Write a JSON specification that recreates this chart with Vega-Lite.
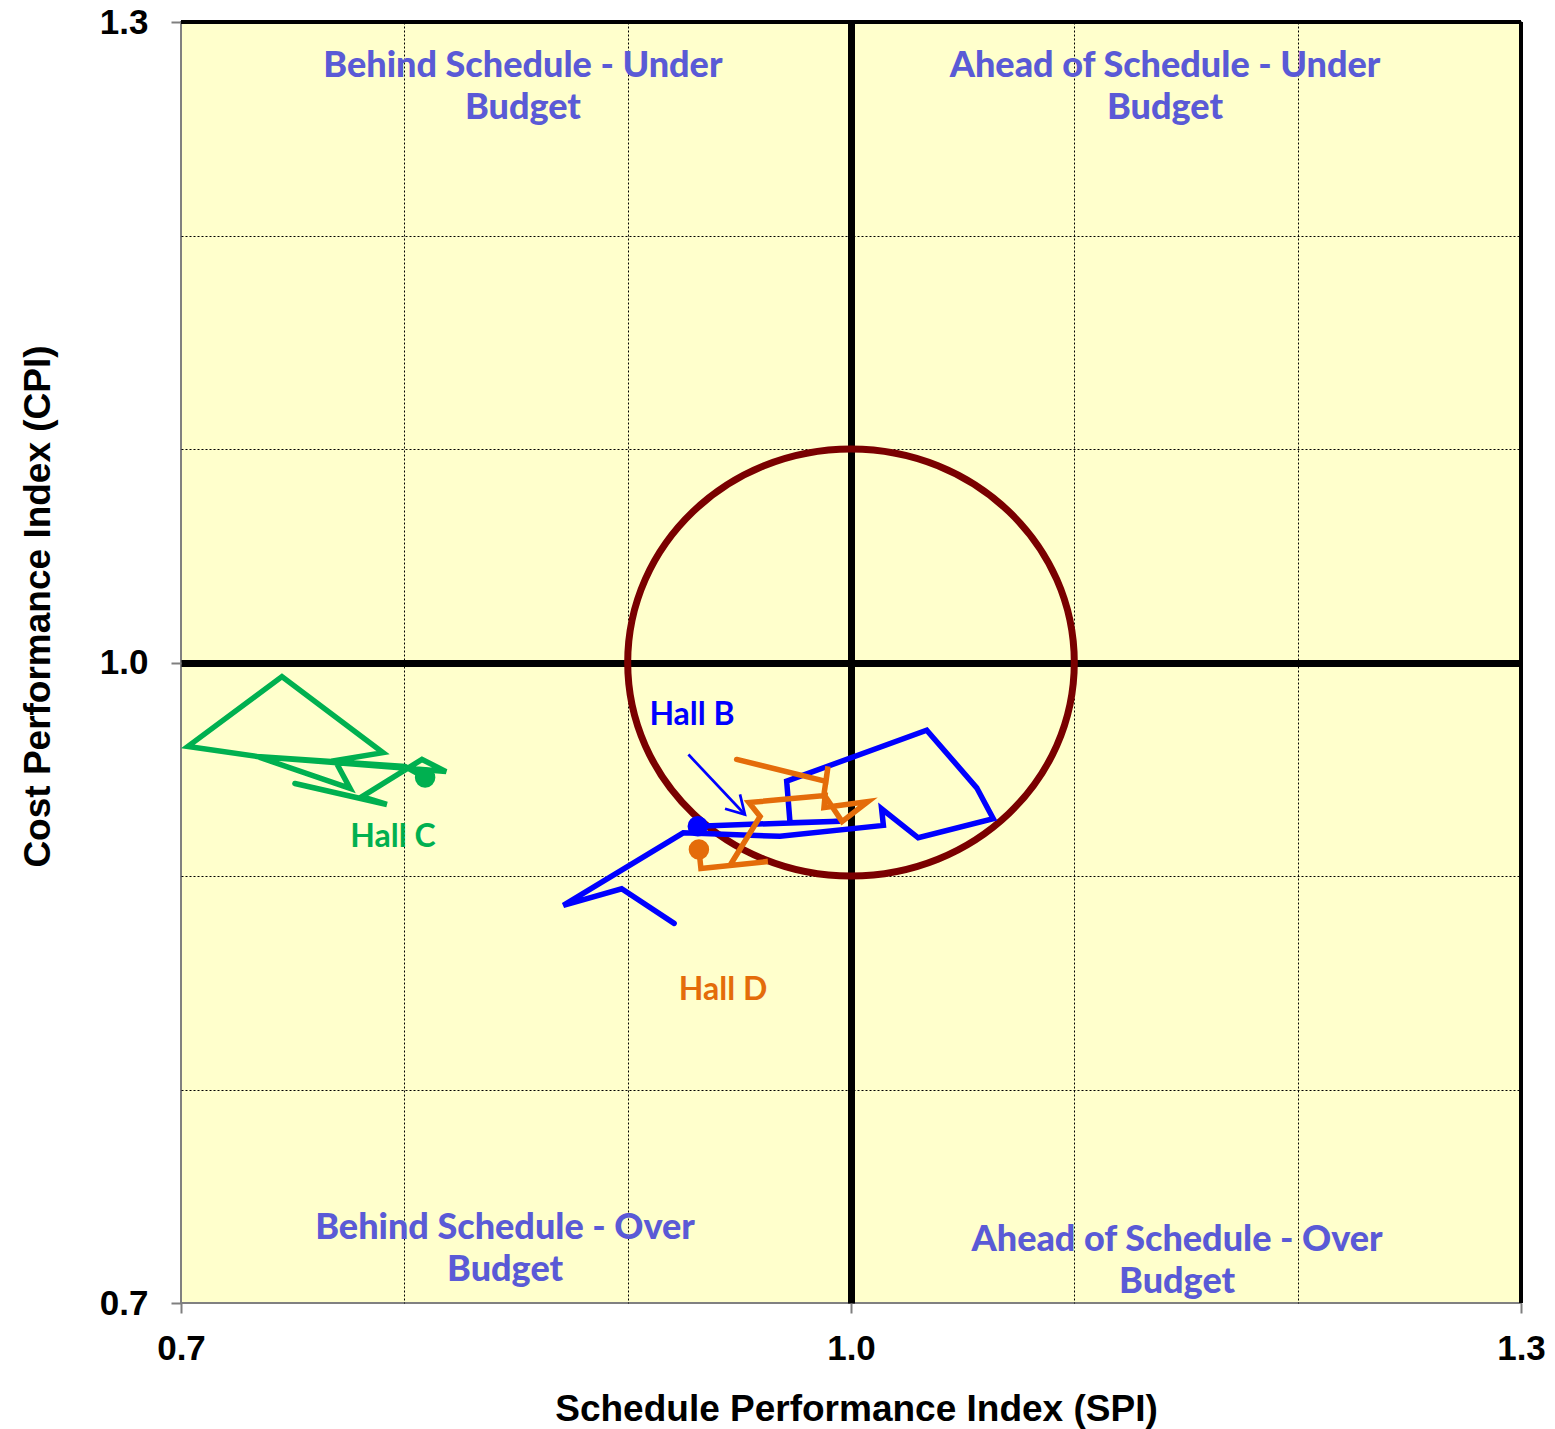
{
  "$schema": "https://vega.github.io/schema/vega-lite/v6.json",
  "width": 1340,
  "height": 1281,
  "autosize": {"type": "none"},
  "padding": {"left": 181, "top": 22, "right": 34, "bottom": 126},
  "background": "white",
  "config": {
    "view": {"fill": "#FFFFCC", "stroke": "#808080", "strokeWidth": 2},
    "axis": {
      "labelFont": "Liberation Sans",
      "labelFontWeight": "bold",
      "labelFontSize": 35,
      "labelColor": "black",
      "tickSize": 10,
      "tickColor": "#7f7f7f",
      "tickWidth": 2,
      "domain": false,
      "grid": true,
      "gridColor": "black",
      "titleFont": "Liberation Sans",
      "titleFontWeight": "bold",
      "titleFontSize": 37,
      "titleColor": "black",
      "labelOverlap": false,
      "labelFlush": false
    }
  },
  "datasets": {
    "halls": [
      {"hall": "Hall B", "seq": 1, "spi": 0.9208, "cpi": 0.8778},
      {"hall": "Hall B", "seq": 2, "spi": 0.8973, "cpi": 0.894},
      {"hall": "Hall B", "seq": 3, "spi": 0.8712, "cpi": 0.8862},
      {"hall": "Hall B", "seq": 4, "spi": 0.9249, "cpi": 0.9202},
      {"hall": "Hall B", "seq": 5, "spi": 0.9682, "cpi": 0.9186},
      {"hall": "Hall B", "seq": 6, "spi": 1.0145, "cpi": 0.9237},
      {"hall": "Hall B", "seq": 7, "spi": 1.0137, "cpi": 0.9315},
      {"hall": "Hall B", "seq": 8, "spi": 1.0301, "cpi": 0.9179},
      {"hall": "Hall B", "seq": 9, "spi": 1.0637, "cpi": 0.9268},
      {"hall": "Hall B", "seq": 10, "spi": 1.0563, "cpi": 0.9413},
      {"hall": "Hall B", "seq": 11, "spi": 1.0339, "cpi": 0.9683},
      {"hall": "Hall B", "seq": 12, "spi": 0.9712, "cpi": 0.9444},
      {"hall": "Hall B", "seq": 13, "spi": 0.9727, "cpi": 0.9249},
      {"hall": "Hall B", "seq": 14, "spi": 0.9951, "cpi": 0.9257},
      {"hall": "Hall B", "seq": 15, "spi": 0.9314, "cpi": 0.9233},
      {"hall": "Hall C", "seq": 1, "spi": 0.751, "cpi": 0.9433},
      {"hall": "Hall C", "seq": 2, "spi": 0.7922, "cpi": 0.9335},
      {"hall": "Hall C", "seq": 3, "spi": 0.781, "cpi": 0.9372},
      {"hall": "Hall C", "seq": 4, "spi": 0.8079, "cpi": 0.9546},
      {"hall": "Hall C", "seq": 5, "spi": 0.8187, "cpi": 0.9489},
      {"hall": "Hall C", "seq": 6, "spi": 0.8025, "cpi": 0.9504},
      {"hall": "Hall C", "seq": 7, "spi": 0.734, "cpi": 0.956},
      {"hall": "Hall C", "seq": 8, "spi": 0.7031, "cpi": 0.9607},
      {"hall": "Hall C", "seq": 9, "spi": 0.7452, "cpi": 0.9934},
      {"hall": "Hall C", "seq": 10, "spi": 0.7904, "cpi": 0.9578},
      {"hall": "Hall C", "seq": 11, "spi": 0.769, "cpi": 0.9541},
      {"hall": "Hall C", "seq": 12, "spi": 0.7757, "cpi": 0.941},
      {"hall": "Hall C", "seq": 13, "spi": 0.734, "cpi": 0.956},
      {"hall": "Hall C", "seq": 14, "spi": 0.8003, "cpi": 0.9513},
      {"hall": "Hall C", "seq": 15, "spi": 0.8093, "cpi": 0.9461},
      {"hall": "Hall D", "seq": 1, "spi": 0.9488, "cpi": 0.9546},
      {"hall": "Hall D", "seq": 2, "spi": 0.9888, "cpi": 0.9443},
      {"hall": "Hall D", "seq": 3, "spi": 0.9897, "cpi": 0.9513},
      {"hall": "Hall D", "seq": 4, "spi": 0.9879, "cpi": 0.9382},
      {"hall": "Hall D", "seq": 5, "spi": 0.996, "cpi": 0.9255},
      {"hall": "Hall D", "seq": 6, "spi": 1.0076, "cpi": 0.9349},
      {"hall": "Hall D", "seq": 7, "spi": 0.9879, "cpi": 0.9321},
      {"hall": "Hall D", "seq": 8, "spi": 0.9884, "cpi": 0.9377},
      {"hall": "Hall D", "seq": 9, "spi": 0.9543, "cpi": 0.9344},
      {"hall": "Hall D", "seq": 10, "spi": 0.9593, "cpi": 0.9279},
      {"hall": "Hall D", "seq": 11, "spi": 0.9458, "cpi": 0.9049},
      {"hall": "Hall D", "seq": 12, "spi": 0.9628, "cpi": 0.9068},
      {"hall": "Hall D", "seq": 13, "spi": 0.9328, "cpi": 0.9035},
      {"hall": "Hall D", "seq": 14, "spi": 0.9319, "cpi": 0.9124}
    ],
    "labels": [
      {"hall": "Hall B", "spi": 0.9288, "cpi": 0.9752},
      {"hall": "Hall C", "spi": 0.7949, "cpi": 0.9185},
      {"hall": "Hall D", "spi": 0.9427, "cpi": 0.8464}
    ],
    "quadrants": [
      {"text": "Behind Schedule - Under|Budget", "spi": 0.8531, "cpi": 1.2796},
      {"text": "Ahead of Schedule - Under|Budget", "spi": 1.1406, "cpi": 1.2796},
      {"text": "Behind Schedule - Over|Budget", "spi": 0.8451, "cpi": 0.7349},
      {"text": "Ahead of Schedule - Over|Budget", "spi": 1.146, "cpi": 0.7297}
    ],
    "arrow": [
      {"part": "shaft", "k": 1, "spi": 0.9272, "cpi": 0.9569},
      {"part": "shaft", "k": 2, "spi": 0.9525, "cpi": 0.9288},
      {"part": "head", "k": 1, "spi": 0.9436, "cpi": 0.9315},
      {"part": "head", "k": 2, "spi": 0.9525, "cpi": 0.9288},
      {"part": "head", "k": 3, "spi": 0.9503, "cpi": 0.9382}
    ],
    "target": [
      {"spi": 1.0, "cpi": 1.0}
    ]
  },
  "layer": [
    {
      "data": {"name": "target"},
      "mark": {
        "type": "point",
        "shape": "M -1 0 A 1 0.956 0 1 1 1 0 A 1 0.956 0 1 1 -1 0 Z",
        "size": 199452,
        "filled": false,
        "stroke": "#7A0000",
        "strokeWidth": 7,
        "opacity": 1,
        "clip": false
      },
      "encoding": {
        "x": {
          "field": "spi",
          "type": "quantitative",
          "scale": {"domain": [0.7, 1.3], "nice": false, "zero": false},
          "axis": {
            "title": "Schedule Performance Index (SPI)",
            "values": [0.7, 0.8, 0.9, 1, 1.1, 1.2, 1.3],
            "labelExpr": "(datum.value == 0.7 || datum.value == 1 || datum.value == 1.3) ? format(datum.value, '.1f') : ''",
            "labelPadding": 18,
            "titleX": 675,
            "titleY": 117,
            "titleAlign": "center",
            "titleBaseline": "alphabetic",
            "tickOpacity": {"condition": {"test": "datum.value == 0.7 || datum.value == 1 || datum.value == 1.3", "value": 1}, "value": 0},
            "gridWidth": {"condition": {"test": "datum.value == 1", "value": 7}, "value": 1},
            "gridDash": {"condition": {"test": "datum.value == 1", "value": []}, "value": [2, 2]},
            "gridOpacity": {"condition": {"test": "datum.value == 0.7 || datum.value == 1.3", "value": 0}, "value": 1}
          }
        },
        "y": {
          "field": "cpi",
          "type": "quantitative",
          "scale": {"domain": [0.7, 1.3], "nice": false, "zero": false},
          "axis": {
            "title": "Cost Performance Index (CPI)",
            "values": [0.7, 0.8, 0.9, 1, 1.1, 1.2, 1.3],
            "labelExpr": "(datum.value == 0.7 || datum.value == 1 || datum.value == 1.3) ? format(datum.value, '.1f') : ''",
            "labelPadding": 23,
            "titleX": -132,
            "titleY": 584,
            "titleAngle": -90,
            "titleAlign": "center",
            "titleBaseline": "alphabetic",
            "tickOpacity": {"condition": {"test": "datum.value == 0.7 || datum.value == 1 || datum.value == 1.3", "value": 1}, "value": 0},
            "gridWidth": {"condition": {"test": "datum.value == 1", "value": 7}, "value": 1},
            "gridDash": {"condition": {"test": "datum.value == 1", "value": []}, "value": [2, 2]},
            "gridOpacity": {"condition": {"test": "datum.value == 0.7 || datum.value == 1.3", "value": 0}, "value": 1}
          }
        }
      }
    },
    {
      "data": {"values": [{}]},
      "mark": {"type": "rule", "color": "black", "strokeWidth": 4},
      "encoding": {"y": {"datum": 1.3}}
    },
    {
      "data": {"values": [{}]},
      "mark": {"type": "rule", "color": "black", "strokeWidth": 4},
      "encoding": {"x": {"datum": 1.3}}
    },
    {
      "data": {"name": "halls"},
      "mark": {"type": "line", "strokeWidth": 5.5, "strokeJoin": "miter", "strokeCap": "round"},
      "encoding": {
        "x": {"field": "spi", "type": "quantitative"},
        "y": {"field": "cpi", "type": "quantitative"},
        "order": {"field": "seq", "type": "quantitative"},
        "color": {
          "field": "hall",
          "type": "nominal",
          "scale": {"domain": ["Hall B", "Hall C", "Hall D"], "range": ["#0000FF", "#00B050", "#E46C0A"]},
          "legend": null
        }
      }
    },
    {
      "data": {"name": "halls"},
      "transform": [
        {"joinaggregate": [{"op": "max", "field": "seq", "as": "lastSeq"}], "groupby": ["hall"]},
        {"filter": "datum.seq == datum.lastSeq"}
      ],
      "mark": {"type": "point", "filled": true, "size": 420, "opacity": 1},
      "encoding": {
        "x": {"field": "spi", "type": "quantitative"},
        "y": {"field": "cpi", "type": "quantitative"},
        "color": {"field": "hall", "type": "nominal", "legend": null}
      }
    },
    {
      "data": {"name": "arrow"},
      "mark": {"type": "line", "strokeWidth": 2.7, "color": "#0000FF"},
      "encoding": {
        "x": {"field": "spi", "type": "quantitative"},
        "y": {"field": "cpi", "type": "quantitative"},
        "detail": {"field": "part", "type": "nominal"},
        "order": {"field": "k", "type": "quantitative"}
      }
    },
    {
      "data": {"name": "labels"},
      "mark": {"type": "text", "font": "Lato", "fontWeight": "bold", "fontSize": 32, "align": "center", "baseline": "middle"},
      "encoding": {
        "x": {"field": "spi", "type": "quantitative"},
        "y": {"field": "cpi", "type": "quantitative"},
        "text": {"field": "hall", "type": "nominal"},
        "color": {"field": "hall", "type": "nominal", "legend": null}
      }
    },
    {
      "data": {"name": "quadrants"},
      "mark": {"type": "text", "font": "Lato", "fontWeight": 900, "fontSize": 36, "align": "center", "baseline": "middle", "lineBreak": "|", "lineHeight": 42, "color": "#5A5AD6"},
      "encoding": {
        "x": {"field": "spi", "type": "quantitative"},
        "y": {"field": "cpi", "type": "quantitative"},
        "text": {"field": "text", "type": "nominal"}
      }
    }
  ]
}
